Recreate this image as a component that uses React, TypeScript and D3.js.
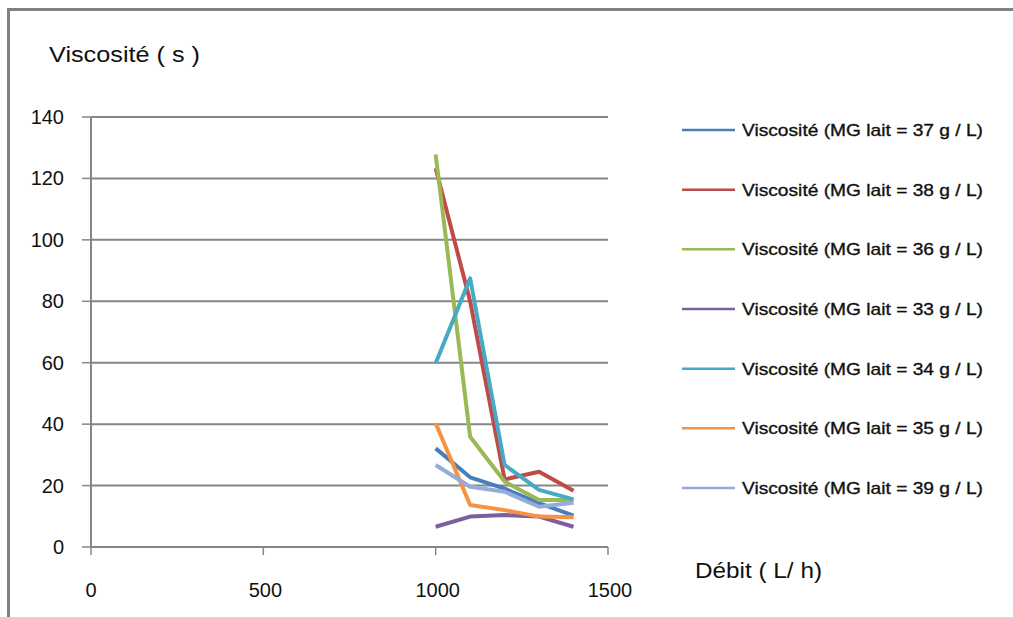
import React from "react";
import * as d3 from "d3";

const debit = [1000, 1100, 1200, 1300, 1400];
const seriesNames = [
  "Viscosité (MG lait = 37 g / L)",
  "Viscosité (MG lait = 38 g / L)",
  "Viscosité (MG lait = 36 g / L)",
  "Viscosité (MG lait = 33 g / L)",
  "Viscosité (MG lait = 34 g / L)",
  "Viscosité (MG lait = 35 g / L)",
  "Viscosité (MG lait = 39 g / L)",
];
const v37 = [32.1, 22.7, 19.0, 14.3, 10.2];
const v38 = [123.3, 80.0, 22.0, 24.5, 18.3];
const v36 = [127.8, 35.9, 21.3, 15.3, 15.3];
const v33 = [6.6, 9.9, 10.4, 9.9, 6.6];
const v34 = [59.8, 87.5, 26.7, 18.6, 15.5];
const v35 = [40.3, 13.7, 12.0, 9.9, 9.7];
const v39 = [26.7, 19.6, 18.0, 13.1, 14.4];
const seriesValues = [v37, v38, v36, v33, v34, v35, v39];
const colors = ["#4A7EBB", "#BE4B48", "#98B954", "#7D5FA0", "#46AAC5", "#F69240", "#94ADD8"];
const xTicks = [0, 500, 1000, 1500];
const yTicks = [0, 20, 40, 60, 80, 100, 120, 140];

export default function App() {
  const W = 1013, H = 617;
  const x = d3.scaleLinear().domain([0, 1500]).range([91, 608]);
  const y = d3.scaleLinear().domain([0, 140]).range([547, 117]);
  const line = d3.line<number>().x((_, i) => x(debit[i])).y((d) => y(d));
  const grid = "#868686";
  const font = "'Liberation Sans', Arial, sans-serif";
  const legendY = d3.scaleLinear().domain([0, 6]).range([130, 488]);

  return (
    <svg width={W} height={H} style={{ position: "absolute", left: 0, top: 0, background: "#fff", overflow: "hidden" }}>
      <rect x={0} y={0} width={W} height={H} fill="#fff" />
      <line x1={7} x2={W} y1={9.5} y2={9.5} stroke="#808080" strokeWidth={3} />
      <line x1={8.5} x2={8.5} y1={8} y2={H} stroke="#808080" strokeWidth={3} />
      {yTicks.map((t) => (
        <line key={"g" + t} x1={x(0)} x2={x(1500)} y1={y(t)} y2={y(t)} stroke={grid} strokeWidth={2} />
      ))}
      {yTicks.map((t) => (
        <line key={"yt" + t} x1={x(0) - 9} x2={x(0)} y1={y(t)} y2={y(t)} stroke={grid} strokeWidth={1.5} />
      ))}
      <line x1={x(0)} x2={x(0)} y1={y(140)} y2={y(0)} stroke={grid} strokeWidth={2} />
      {xTicks.map((t) => (
        <line key={"xt" + t} x1={x(t)} x2={x(t)} y1={y(0)} y2={y(0) + 8} stroke={grid} strokeWidth={1.5} />
      ))}
      {yTicks.map((t) => (
        <text key={"yl" + t} x={64} y={y(t) + 7} textAnchor="end" fontFamily={font} fontSize={20} fill="#111">
          {t}
        </text>
      ))}
      {xTicks.map((t) => (
        <text key={"xl" + t} x={x(t) + (t === 0 ? 0 : 2)} y={597} textAnchor="middle" fontFamily={font} fontSize={20} fill="#111">
          {t}
        </text>
      ))}
      <text x={49} y={62} fontFamily={font} fontSize={22} fill="#111" textLength={151} lengthAdjust="spacingAndGlyphs">
        Viscosité ( s )
      </text>
      <text x={695} y={578} fontFamily={font} fontSize={22} fill="#111" textLength={127} lengthAdjust="spacingAndGlyphs">
        Débit ( L/ h)
      </text>
      {seriesValues.map((vals, i) => (
        <path key={"s" + i} d={line(vals) || ""} fill="none" stroke={colors[i]} strokeWidth={4} strokeLinejoin="round" />
      ))}
      {seriesNames.map((name, i) => (
        <g key={"lg" + i}>
          <line x1={682} x2={735} y1={legendY(i)} y2={legendY(i)} stroke={colors[i]} strokeWidth={2.5} />
          <text x={742} y={legendY(i) + 6} fontFamily={font} fontSize={17} fill="#111" stroke="#111" strokeWidth={0.35}
            textLength={241} lengthAdjust="spacingAndGlyphs">
            {name}
          </text>
        </g>
      ))}
    </svg>
  );
}
